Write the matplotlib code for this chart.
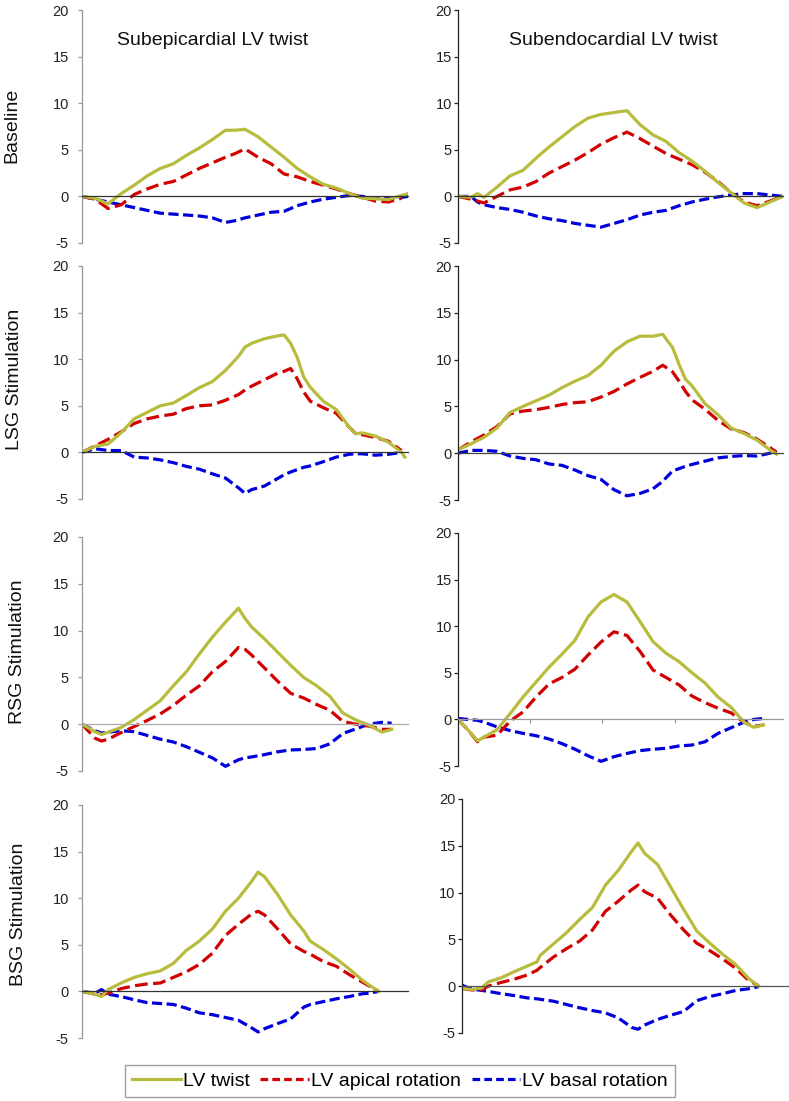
import numpy as np
import matplotlib
matplotlib.use("Agg")
import matplotlib.pyplot as plt
from matplotlib.lines import Line2D

plt.rcParams['font.family'] = ['Liberation Sans', 'DejaVu Sans']
plt.rcParams['axes.unicode_minus'] = False

nan = np.nan

# x = % of the cycle, y = degrees
# --- Baseline, subepicardial
base_epi_x = [0, 4, 8, 12, 16, 20, 24, 28, 32, 36, 40, 44, 47, 50, 54, 58, 62, 66, 70, 74, 78, 82, 86, 90, 94, 98, 100]
base_epi_twist = [0, -0.2, -0.8, 0.3, 1.2, 2.2, 3.0, 3.5, 4.4, 5.2, 6.1, 7.1, 7.1, 7.2, 6.4, 5.3, 4.2, 3.0, 2.1, 1.3, 0.9, 0.3, -0.2, -0.25, -0.35, 0.1, 0.3]
base_epi_apical = [0, -0.3, -1.3, -0.9, 0.2, 0.8, 1.3, 1.6, 2.3, 3.0, 3.6, 4.2, 4.6, 5.1, 4.2, 3.5, 2.4, 2.1, 1.6, 1.2, 0.8, 0.3, -0.1, -0.5, -0.6, -0.2, nan]
base_epi_basal = [0, -0.3, -0.6, -0.9, -1.2, -1.5, -1.8, -1.9, -2.0, -2.1, -2.3, -2.8, -2.6, -2.3, -2.0, -1.7, -1.6, -1.0, -0.6, -0.3, -0.1, 0.1, 0.0, -0.2, -0.25, -0.1, 0]

# --- Baseline, subendocardial
base_endo_x = [0, 4, 6, 8, 12, 16, 20, 24, 28, 32, 36, 40, 44, 48, 52, 56, 60, 64, 68, 72, 76, 80, 84, 88, 92, 96, 100]
base_endo_twist = [0, -0.1, 0.3, -0.1, 1.0, 2.2, 2.8, 4.1, 5.3, 6.4, 7.5, 8.4, 8.8, 9.0, 9.2, 7.7, 6.6, 5.9, 4.7, 3.8, 2.7, 1.5, 0.4, -0.7, -1.2, -0.6, 0]
base_endo_apical = [0, -0.3, -0.5, -0.7, 0.0, 0.7, 1.0, 1.6, 2.5, 3.2, 3.9, 4.7, 5.6, 6.3, 6.9, 6.2, 5.4, 4.6, 4.0, 3.4, 2.6, 1.6, 0.4, -0.6, -1.0, -0.5, 0]
base_endo_basal = [0, 0, -0.6, -0.9, -1.2, -1.4, -1.7, -2.1, -2.4, -2.6, -2.9, -3.1, -3.3, -2.9, -2.5, -2.0, -1.7, -1.5, -1.0, -0.6, -0.3, -0.05, 0.15, 0.3, 0.3, 0.15, 0]

# --- LSG, subepicardial
lsg_epi_x = [0, 4, 8, 12, 16, 20, 24, 28, 32, 36, 40, 44, 48, 50, 52, 56, 60, 62, 64, 66, 68, 70, 74, 78, 82, 84, 86, 90, 94, 98, 99]
lsg_epi_twist = [0, 0.65, 0.9, 2.1, 3.6, 4.3, 5.0, 5.3, 6.1, 6.95, 7.6, 8.8, 10.3, 11.3, 11.7, 12.2, 12.5, 12.6, 11.7, 10.2, 8.1, 7.0, 5.5, 4.6, 2.7, 2.0, 2.1, 1.75, 1.1, 0.0, -0.5]
lsg_epi_apical = [0, 0.7, 1.4, 2.2, 3.1, 3.6, 3.9, 4.1, 4.7, 5.0, 5.1, 5.6, 6.2, 6.7, 7.1, 7.8, 8.5, 8.7, 9.0, 7.9, 6.5, 5.5, 4.8, 4.2, 2.7, 2.0, 1.9, 1.6, 1.2, 0.2, nan]
lsg_epi_basal = [0, 0.4, 0.2, 0.2, -0.5, -0.6, -0.8, -1.1, -1.5, -1.8, -2.3, -2.75, -3.8, -4.4, -4.0, -3.6, -2.8, -2.4, -2.1, -1.85, -1.6, -1.45, -1.0, -0.5, -0.2, -0.15, -0.15, -0.3, -0.2, 0.0, nan]

# --- LSG, subendocardial
lsg_endo_x = [0, 4, 8, 12, 16, 20, 24, 28, 32, 36, 40, 44, 48, 52, 56, 60, 63, 66, 68, 70, 72, 76, 80, 84, 88, 92, 96, 98]
lsg_endo_twist = [0.35, 1.0, 1.7, 2.7, 4.35, 5.0, 5.6, 6.2, 7.0, 7.7, 8.3, 9.4, 10.9, 11.9, 12.5, 12.5, 12.7, 11.3, 9.5, 7.9, 7.2, 5.3, 4.1, 2.7, 2.1, 1.4, 0.35, -0.1]
lsg_endo_apical = [0.35, 1.2, 1.95, 2.85, 4.2, 4.5, 4.65, 4.9, 5.2, 5.4, 5.5, 6.0, 6.6, 7.4, 8.1, 8.75, 9.4, 8.7, 7.7, 6.6, 5.7, 4.7, 3.5, 2.6, 2.2, 1.5, 0.6, 0.1]
lsg_endo_basal = [0, 0.3, 0.3, 0.2, -0.3, -0.55, -0.7, -1.15, -1.3, -1.8, -2.4, -2.8, -3.9, -4.55, -4.3, -3.8, -3.0, -1.9, -1.65, -1.4, -1.2, -0.85, -0.5, -0.35, -0.25, -0.3, 0.0, 0.2]

# --- RSG, subepicardial
rsg_epi_x = [0, 4, 6, 8, 12, 16, 20, 24, 28, 32, 36, 40, 44, 48, 50, 52, 56, 60, 64, 68, 72, 76, 80, 84, 88, 92, 95]
rsg_epi_twist = [0, -0.8, -1.1, -0.85, -0.35, 0.5, 1.5, 2.5, 4.1, 5.6, 7.5, 9.3, 10.9, 12.4, 11.3, 10.4, 9.1, 7.7, 6.3, 5.0, 4.1, 3.0, 1.2, 0.45, -0.1, -0.85, -0.55]
rsg_epi_apical = [0, -1.5, -1.8, -1.6, -0.9, -0.25, 0.4, 1.1, 2.0, 3.1, 4.1, 5.6, 6.7, 8.2, 8.0, 7.4, 6.0, 4.6, 3.3, 2.8, 2.1, 1.5, 0.3, 0.0, -0.2, -0.55, -0.55]
rsg_epi_basal = [0, -0.7, -0.95, -0.85, -0.7, -0.8, -1.2, -1.6, -1.9, -2.4, -3.0, -3.6, -4.5, -3.8, -3.6, -3.5, -3.25, -2.95, -2.75, -2.7, -2.6, -2.1, -1.0, -0.5, 0.0, 0.2, 0.1]

# --- RSG, subendocardial
rsg_endo_x = [0, 3, 6, 8, 12, 16, 20, 24, 28, 32, 36, 40, 44, 48, 52, 56, 60, 64, 68, 72, 76, 80, 84, 88, 91, 94]
rsg_endo_twist = [0, -1.1, -2.3, -1.9, -1.1, 0.6, 2.4, 4.0, 5.6, 7.0, 8.5, 11.0, 12.6, 13.4, 12.6, 10.5, 8.35, 7.1, 6.2, 5.0, 3.9, 2.4, 1.3, -0.3, -0.85, -0.6]
rsg_endo_apical = [0, -1.1, -2.4, -1.9, -1.7, -0.2, 0.8, 2.4, 3.8, 4.5, 5.4, 6.9, 8.3, 9.4, 9.0, 7.3, 5.3, 4.5, 3.7, 2.5, 1.8, 1.2, 0.7, -0.3, -0.75, -0.6]
rsg_endo_basal = [0.1, 0.0, -0.1, -0.3, -0.8, -1.2, -1.5, -1.75, -2.1, -2.6, -3.2, -3.9, -4.5, -4.0, -3.65, -3.35, -3.2, -3.1, -2.85, -2.75, -2.4, -1.5, -0.9, -0.3, 0.0, 0.1]

# --- BSG, subepicardial
bsg_epi_x = [0, 4, 6, 8, 12, 16, 20, 24, 28, 32, 36, 40, 44, 48, 52, 54, 56, 60, 64, 68, 70, 74, 78, 82, 86, 88, 91]
bsg_epi_twist = [0, -0.3, -0.55, 0.2, 0.9, 1.5, 1.9, 2.2, 3.0, 4.4, 5.4, 6.7, 8.6, 10.0, 11.8, 12.8, 12.3, 10.4, 8.2, 6.5, 5.4, 4.5, 3.5, 2.4, 1.2, 0.7, 0.0]
bsg_epi_apical = [0, -0.3, -0.35, -0.2, 0.3, 0.6, 0.8, 0.9, 1.5, 2.1, 2.9, 4.1, 6.0, 7.2, 8.3, 8.6, 8.2, 6.7, 5.1, 4.3, 4.0, 3.2, 2.7, 1.8, 1.0, 0.6, 0.0]
bsg_epi_basal = [0, -0.2, 0.2, -0.3, -0.55, -0.9, -1.2, -1.3, -1.4, -1.8, -2.3, -2.5, -2.8, -3.1, -3.9, -4.35, -4.0, -3.45, -2.95, -1.7, -1.4, -1.1, -0.8, -0.55, -0.25, -0.2, 0.0]

# --- BSG, subendocardial
bsg_endo_x = [0, 3, 6, 8, 12, 16, 20, 23, 24, 28, 32, 36, 40, 44, 48, 52, 54, 56, 60, 64, 68, 72, 76, 80, 84, 88, 91]
bsg_endo_twist = [-0.25, -0.35, -0.2, 0.45, 0.9, 1.55, 2.15, 2.6, 3.3, 4.5, 5.7, 7.1, 8.4, 10.8, 12.4, 14.4, 15.3, 14.2, 13.0, 10.6, 8.2, 5.9, 4.6, 3.4, 2.3, 0.8, 0.0]
bsg_endo_apical = [-0.25, -0.4, -0.4, 0.0, 0.4, 0.75, 1.2, 1.7, 2.0, 3.1, 4.0, 4.8, 6.0, 8.0, 9.1, 10.3, 10.8, 10.1, 9.4, 7.6, 6.0, 4.6, 3.8, 2.9, 1.9, 0.6, 0.05]
bsg_endo_basal = [0.1, -0.3, -0.45, -0.55, -0.8, -1.0, -1.25, -1.35, -1.4, -1.6, -1.95, -2.3, -2.6, -2.85, -3.4, -4.4, -4.6, -4.15, -3.55, -3.1, -2.7, -1.55, -1.1, -0.8, -0.45, -0.27, -0.05]

row_labels = ['Baseline', 'LSG Stimulation', 'RSG Stimulation', 'BSG Stimulation']
col_titles = ['Subepicardial LV twist', 'Subendocardial LV twist']
series_labels = ['LV twist', 'LV apical rotation', 'LV basal rotation']
yticks = [-5, 0, 5, 10, 15, 20]

panels = [
    (base_epi_x, base_epi_twist, base_epi_apical, base_epi_basal),
    (base_endo_x, base_endo_twist, base_endo_apical, base_endo_basal),
    (lsg_epi_x, lsg_epi_twist, lsg_epi_apical, lsg_epi_basal),
    (lsg_endo_x, lsg_endo_twist, lsg_endo_apical, lsg_endo_basal),
    (rsg_epi_x, rsg_epi_twist, rsg_epi_apical, rsg_epi_basal),
    (rsg_endo_x, rsg_endo_twist, rsg_endo_apical, rsg_endo_basal),
    (bsg_epi_x, bsg_epi_twist, bsg_epi_apical, bsg_epi_basal),
    (bsg_endo_x, bsg_endo_twist, bsg_endo_apical, bsg_endo_basal),
]

W, H = 789, 1101
# panel boxes in pixels: x left, x right, y of 20, y of -5
boxes = [
    (82, 408, 10, 243), (458, 783, 10, 243),
    (82, 408, 266, 499), (458, 783, 266, 500),
    (82, 408, 537, 771), (458, 783, 533, 766),
    (82, 408, 805, 1038), (462, 788, 799, 1033),
]
axis0_color = ['#333333', '#333333', '#333333', '#444444', '#aaaaaa', '#999999', '#333333', '#555555']

c_twist = '#B8BC3C'
c_apical = '#D20000'
c_basal = '#0000DD'
lw = 2.3

fig = plt.figure(figsize=(W / 100, H / 100), dpi=100)

for i, (x, tw, ap, ba) in enumerate(panels):
    x0, x1, yt, yb = boxes[i]
    ax = fig.add_axes([x0 / W, 1 - yb / H, (x1 - x0) / W, (yb - yt) / H])
    ax.patch.set_alpha(0)
    col = i % 2
    spine_c = '#999999' if col == 0 else '#222222'

    ax.plot(x, ba, color=c_basal, lw=lw, dashes=(3.2, 1.4))
    ax.plot(x, ap, color=c_apical, lw=lw, dashes=(4.0, 1.7))
    ax.plot(x, tw, color=c_twist, lw=lw, solid_joinstyle='round')

    ax.set_xlim(0, 100)
    ax.set_ylim(-5, 20)
    for s in ['top', 'right']:
        ax.spines[s].set_visible(False)
    ax.spines['bottom'].set_position(('data', 0))
    ax.spines['bottom'].set_color(axis0_color[i])
    ax.spines['bottom'].set_linewidth(0.9)
    ax.spines['left'].set_color(spine_c)
    ax.spines['left'].set_linewidth(0.9)
    ax.set_yticks(yticks)
    ax.tick_params(axis='y', direction='out', length=3, width=0.9, color=spine_c,
                   labelsize=10.5, labelcolor='#222222', pad=6.5 if col == 0 else 1.5)
    if i == 5:
        ax.set_xticks([22.2, 44.4, 66.7, 88.9])
        ax.tick_params(axis='x', direction='out', length=3, width=0.9,
                       color=axis0_color[i], labelbottom=False)
    else:
        ax.set_xticks([])

for r, lab in enumerate(row_labels):
    xc = [12, 15, 18, 19][r]
    yc = [125, 379, 652, 914][r]
    fig.text(xc / W, 1 - yc / H, lab, rotation=90, ha='center', va='center',
             fontsize=14, color='#111111')

fig.text(213 / W, 1 - 45 / H, col_titles[0], ha='center', va='baseline', fontsize=14, color='#111111')
fig.text(613 / W, 1 - 45 / H, col_titles[1], ha='center', va='baseline', fontsize=14, color='#111111')

handles = [
    Line2D([], [], color=c_twist, lw=lw),
    Line2D([], [], color=c_apical, lw=lw, dashes=(2.4, 1.3)),
    Line2D([], [], color=c_basal, lw=lw, dashes=(2.4, 1.3)),
]
leg = fig.legend(handles, series_labels, loc='center', bbox_to_anchor=(400 / W, 1 - 1081 / H),
                 ncol=3, fontsize=14, frameon=True, fancybox=False, edgecolor='#888888',
                 handlelength=2.5, handletextpad=0.1, columnspacing=0.55, borderpad=0.35,
                 borderaxespad=0)
leg.get_frame().set_linewidth(1.0)

fig.savefig('out.png', dpi=100)
